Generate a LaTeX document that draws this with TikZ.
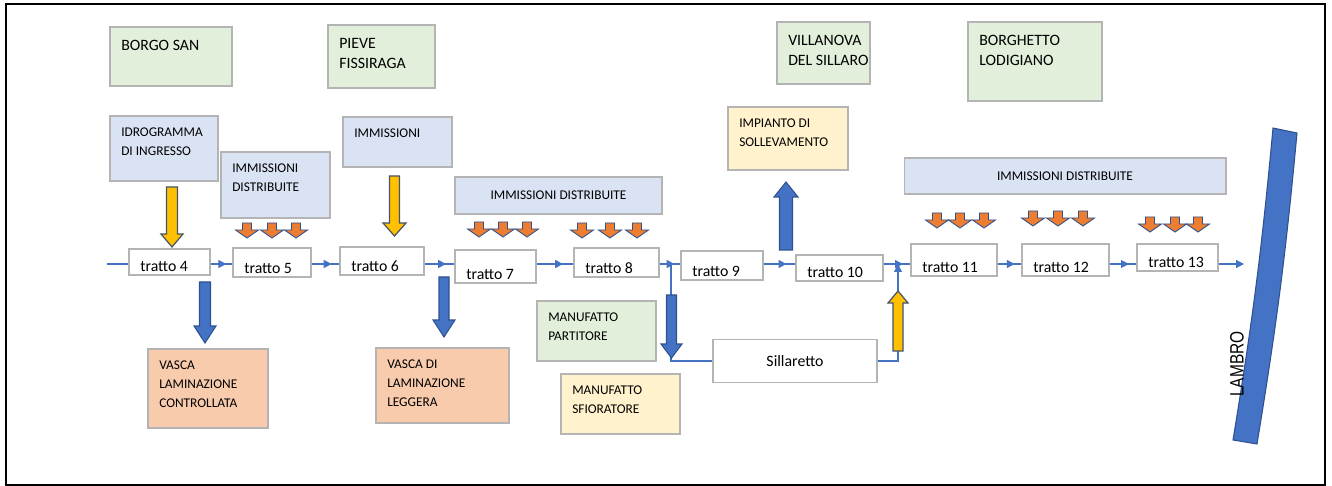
\documentclass[tikz,border=0pt]{standalone}
\usepackage{fontspec}
\setmainfont{Carlito}
\newfontfamily\lambrofont{Liberation Sans}
\usetikzlibrary{arrows.meta,decorations.markings}

\definecolor{towngreen}{HTML}{E2EFDA}
\definecolor{inblue}{HTML}{DAE3F3}
\definecolor{plantyellow}{HTML}{FFF2CC}
\definecolor{basinorange}{HTML}{F8CBAD}
\definecolor{boxgray}{HTML}{B4B4B4}
\definecolor{flowblue}{HTML}{4472C4}
\definecolor{blueedge}{HTML}{2F528F}
\definecolor{arrowyellow}{HTML}{FFC000}
\definecolor{arrowedge}{HTML}{44546A}
\definecolor{arroworange}{HTML}{ED7D31}

\tikzset{
  box/.style={draw=boxgray, line width=0.6pt, inner sep=0pt},
  greenbox/.style={box, fill=towngreen},
  bluebox/.style={box, fill=inblue},
  yellowbox/.style={box, fill=plantyellow},
  orangebox/.style={box, fill=basinorange},
  reach/.style={box, fill=white, label={[anchor=south west, inner xsep=6.5pt, inner ysep=2pt, font=\fontsize{9}{11}\selectfont]south west:#1}},
  townlbl/.style={label={[anchor=north west, align=left, inner xsep=6.5pt, inner ysep=7.5pt, font=\fontsize{9}{11.3}\selectfont]north west:#1}},
  boxlbl/.style={label={[anchor=north west, align=left, inner xsep=6.5pt, inner ysep=7pt, font=\fontsize{7.6}{10.6}\selectfont]north west:#1}},
  flow/.style={draw=flowblue, line width=0.6pt},
  midtip/.style={postaction={decorate, decoration={markings, mark=at position 0.72 with {\arrow{Triangle[length=4.5pt,width=4.5pt]}}}}},
  yarrow/.style={fill=arrowyellow, draw=arrowedge, line width=0.7pt},
  barrow/.style={fill=flowblue, draw=blueedge, line width=0.6pt},
  oarrow/.style={fill=arroworange, draw=blueedge, line width=0.5pt},
  pics/blockarrow/.style n args={4}{code={
    \path[pic actions] (-#2,0) -- (#2,0) -- (#2,#1-#4) -- (#3,#1-#4) -- (0,#1)
      -- (-#3,#1-#4) -- (-#2,#1-#4) -- cycle;
  }},
}

\begin{document}
\begin{tikzpicture}[x=0.02cm, y=-0.02cm]
    \useasboundingbox (0,0) rectangle (1332,486);
    \draw[line width=1pt] (6,4) rectangle (1325,485);

    % comuni
    \node[greenbox, townlbl={BORGO SAN}, minimum width=2.44cm, minimum height=1.18cm] (borgo) at (171,56.5) {};
    \node[greenbox, townlbl={PIEVE\\FISSIRAGA}, minimum width=2.14cm, minimum height=1.26cm] (pieve) at (381.5,56.5) {};
    \node[greenbox, townlbl={VILLANOVA\\DEL SILLARO}, minimum width=1.86cm, minimum height=1.24cm] (villanova) at (823.5,53) {};
    \node[greenbox, townlbl={BORGHETTO\\LODIGIANO}, minimum width=2.68cm, minimum height=1.58cm] (borghetto) at (1035,61.5) {};

    % immissioni
    \node[bluebox, boxlbl={IDROGRAMMA\\DI INGRESSO}, minimum width=2.16cm, minimum height=1.30cm] (idro) at (164,148.5) {};
    \node[bluebox, boxlbl={IMMISSIONI\\DISTRIBUITE}, minimum width=2.18cm, minimum height=1.32cm] (immd1) at (275.5,185) {};
    \node[bluebox, boxlbl={IMMISSIONI}, minimum width=2.18cm, minimum height=1.00cm] (imm) at (397.5,142) {};
    \node[bluebox, font=\fontsize{7.6}{10.6}\selectfont, minimum width=4.14cm, minimum height=0.74cm] (immd2) at (558.5,195.5) {IMMISSIONI DISTRIBUITE};
    \node[bluebox, font=\fontsize{7.6}{10.6}\selectfont, minimum width=6.44cm, minimum height=0.72cm] (immd3) at (1065,176) {IMMISSIONI DISTRIBUITE};

    % manufatti e vasche
    \node[yellowbox, boxlbl={IMPIANTO DI\\SOLLEVAMENTO}, minimum width=2.40cm, minimum height=1.26cm] (impianto) at (788,138.5) {};
    \node[greenbox, boxlbl={MANUFATTO\\PARTITORE}, minimum width=2.38cm, minimum height=1.20cm] (partitore) at (596.5,331) {};
    \node[yellowbox, boxlbl={MANUFATTO\\SFIORATORE}, minimum width=2.38cm, minimum height=1.20cm] (sfioratore) at (620.5,404) {};
    \node[orangebox, boxlbl={VASCA\\LAMINAZIONE\\CONTROLLATA}, minimum width=2.40cm, minimum height=1.58cm] (vasca1) at (208,388.5) {};
    \node[orangebox, boxlbl={VASCA DI\\LAMINAZIONE\\LEGGERA}, minimum width=2.66cm, minimum height=1.50cm] (vasca2) at (442.5,385.5) {};

    % tratti
    \node[reach={tratto 4}, minimum width=1.62cm, minimum height=0.52cm] (t4) at (169.5,262) {};
    \node[reach={tratto 5}, minimum width=1.56cm, minimum height=0.58cm] (t5) at (272,262.5) {};
    \node[reach={tratto 6}, minimum width=1.68cm, minimum height=0.56cm] (t6) at (382,261) {};
    \node[reach={tratto 7}, minimum width=1.62cm, minimum height=0.66cm] (t7) at (495.5,266.5) {};
    \node[reach={tratto 8}, minimum width=1.70cm, minimum height=0.58cm] (t8) at (616.5,262.5) {};
    \node[reach={tratto 9}, minimum width=1.64cm, minimum height=0.58cm] (t9) at (722,265.5) {};
    \node[reach={tratto 10}, minimum width=1.74cm, minimum height=0.52cm] (t10) at (839.5,268) {};
    \node[reach={tratto 11}, minimum width=1.72cm, minimum height=0.64cm] (t11) at (954,260) {};
    \node[reach={tratto 12}, minimum width=1.74cm, minimum height=0.64cm] (t12) at (1065.5,260) {};
    \node[reach={tratto 13}, minimum width=1.62cm, minimum height=0.54cm] (t13) at (1177.5,257.5) {};
    \node[box, fill=white, font=\fontsize{9}{11}\selectfont, minimum width=3.28cm, minimum height=0.86cm] (sil) at (795,361) {Sillaretto};

    % asta principale
    \coordinate (fl) at (0,264);
    \coordinate (src) at (107,264);
    \coordinate (split) at (671,264);
    \coordinate (merge) at (898,264);
    \coordinate (out) at (1244,264);
    \draw[flow] (src) -- (t4.west|-fl);
    \draw[flow, midtip] (t4.east|-fl) -- (t5.west|-fl);
    \draw[flow, midtip] (t5.east|-fl) -- (t6.west|-fl);
    \draw[flow, midtip] (t6.east|-fl) -- (t7.west|-fl);
    \draw[flow, midtip] (t7.east|-fl) -- (t8.west|-fl);
    \draw[flow, midtip] (t8.east|-fl) -- (t9.west|-fl);
    \draw[flow, midtip] (t9.east|-fl) -- (t10.west|-fl);
    \draw[flow, midtip] (t10.east|-fl) -- (t11.west|-fl);
    \draw[flow, midtip] (t11.east|-fl) -- (t12.west|-fl);
    \draw[flow, midtip] (t12.east|-fl) -- (t13.west|-fl);
    \draw[flow, -{Triangle[length=4.5pt,width=4.5pt]}] (t13.east|-fl) -- (out);

    % derivazione Sillaretto
    \draw[flow] (split) |- (sil.west);
    \draw[flow, -{Triangle[length=4.5pt,width=4.5pt]}] (sil.east) -| (merge);

    % frecce
    \pic[yarrow] at (172,187) {blockarrow={60}{5.5}{11}{13}};
    \pic[yarrow] at (394.5,176) {blockarrow={60}{5}{11.5}{13}};
    \pic[yarrow, yscale=-1] at (898,351) {blockarrow={60}{5}{10}{12}};
    \pic[barrow] at (205,282) {blockarrow={61}{5.5}{11}{17}};
    \pic[barrow] at (444,277) {blockarrow={60}{5}{11}{17}};
    \pic[barrow] at (671.5,295) {blockarrow={63}{5}{10.5}{14}};
    \pic[barrow, yscale=-1] at (786,250) {blockarrow={68}{6.5}{12}{15}};

    \foreach \x in {247,272,296} \pic[oarrow] at (\x,223) {blockarrow={15}{4.5}{11.5}{8}};
    \foreach \x in {479,503,527} \pic[oarrow] at (\x,222) {blockarrow={15}{4.5}{11.5}{8}};
    \foreach \x in {582,610,637} \pic[oarrow] at (\x,223) {blockarrow={15}{4.5}{11.5}{8}};
    \foreach \x in {937,960,984} \pic[oarrow] at (\x,213) {blockarrow={15}{4.5}{11.5}{8}};
    \foreach \x in {1033,1058,1083} \pic[oarrow] at (\x,211) {blockarrow={15}{4.5}{11.5}{8}};
    \foreach \x in {1150,1175,1198} \pic[oarrow] at (\x,217) {blockarrow={15}{4.5}{11.5}{8}};

    % Lambro
    \draw[fill=flowblue, draw=blueedge, line width=0.6pt] (1273,128) -- (1297,133) to[bend left=2] (1257,444)
      -- (1233,440) to[bend right=2] (1273,128) -- cycle;
    \node[rotate=90, xscale=0.8, font=\lambrofont\fontsize{11}{11}\selectfont] (lambro) at (1237,364) {LAMBRO};
\end{tikzpicture}
\end{document}
